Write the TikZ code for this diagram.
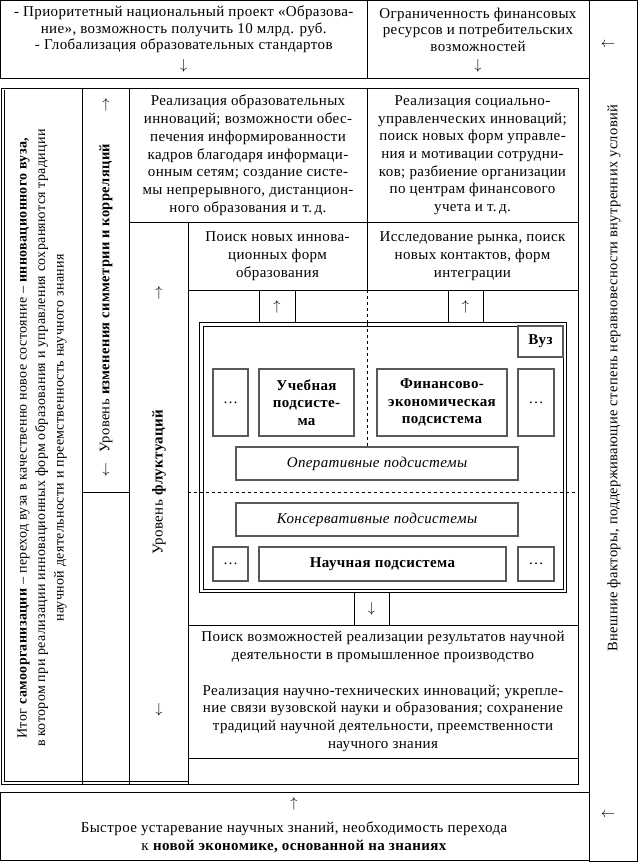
\documentclass[tikz,border=0pt]{standalone}
\usepackage{fontspec}
\setmainfont[LetterSpace=2.5]{Liberation Serif}
\newcommand\fsz{\fontsize{15}{17.7}\selectfont}
\newcommand\fsy{\fontsize{14.5}{17.7}\selectfont}
\newcommand\fsx{\fontsize{14}{18.5}\selectfont}
\newcommand\fst{\fontsize{15}{16.6}\selectfont}
\newcommand\arU{$\uparrow$}
\newcommand\arD{$\downarrow$}
\newcommand\arL{$\leftarrow$}
\begin{document}
\begin{tikzpicture}[x=1pt,y=-1pt,
  cell/.style={draw, line width=0.8pt, inner sep=0pt, outer sep=0pt, align=center, font=\fsz},
  sub/.style={draw=black!65, line width=1.2pt, inner sep=0pt, outer sep=0pt, align=center, font=\fsz},
  txt/.style={inner sep=0pt, outer sep=0pt, align=center, font=\fsz},
  rtxt/.style={txt, rotate=90},
  dashline/.style={dashed, line width=0.6pt, dash pattern=on 3pt off 3pt}]
\useasboundingbox (0,0) rectangle (642,862);
\fill[white] (0,0) rectangle (642,862);
% top boxes
\node[cell, minimum width=366.5, minimum height=77.5] (t1) at (183.75,39.25) {};
\node[txt, font=\fst] (t1txt) at (183.75,29.5) {- Приоритетный национальный проект «Образова-\\ние», возможность получить 10 млрд. руб.\\- Глобализация образовательных стандартов};
\node[txt] (t1ar) at (183.75,65.5) {\arD};
\node[cell, minimum width=222, minimum height=77.5] (t2) at (478,39.25) {};
\node[txt, font=\fst] (t2txt) at (478,29.5) {Ограниченность финансовых\\ресурсов и потребительских\\возможностей};
\node[txt] (t2ar) at (478,65.5) {\arD};
% right column
\node[cell, minimum width=48, minimum height=861] (rc) at (613,431) {};
\node[rtxt, font=\fsy] (rctxt) at (614,378) {Внешние факторы, поддерживающие степень неравновесности внутренних условий};
\node[txt] (rca1) at (608,45) {\arL};
\node[txt] (rca2) at (608,815) {\arL};
% bottom box
\node[cell, minimum width=588.5, minimum height=68] (bb) at (294.75,826) {};
\node[txt] (bbar) at (294,804) {\arU};
\node[txt] (bbtxt) at (294,837) {Быстрое устаревание научных знаний, необходимость перехода\\к \textbf{новой экономике, основанной на знаниях}};
% main frame
\draw[line width=1pt] (1.5,88.5) rectangle (578,784.5);
\draw[line width=0.6pt] (4.5,90) -- (4.5,781.5) -- (188,781.5);
\draw[line width=0.8pt] (82,88.5) -- (82,784.5);
\draw[line width=0.8pt] (129,88.5) -- (129,784.5);
\draw[line width=0.8pt] (82,492) -- (129,492);
\draw[line width=0.8pt] (188,222) -- (188,784.5);
% column 1
\node[rtxt, font=\fsx] (c1) at (42,438) {Итог \textbf{самоорганизации} – переход вуза в качественно новое состояние – \textbf{инновационного вуза,}\\в котором при реализации инновационных форм образования и управления сохраняются традиции\\научной деятельности и преемственность научного знания};
% column 2
\node[txt] (c2up) at (106,105) {\arU};
\node[txt] (c2dn) at (106,470) {\arD};
\node[rtxt, font=\fsy] (c2) at (106,298) {Уровень \textbf{изменения симметрии и корреляций}};
% column 3
\node[txt] (c3up) at (159,293) {\arU};
\node[rtxt] (c3) at (159,482) {Уровень \textbf{флуктуаций}};
\node[txt] (c3dn) at (159,710) {\arD};
% upper boxes
\node[cell, minimum width=238, minimum height=133.5] (ba) at (248,155.25) {Реализация образовательных\\инноваций; возможности обес-\\печения информированности\\кадров благодаря информаци-\\онным сетям; создание систе-\\мы непрерывного, дистанцион-\\ного образования и т.\,д.};
\node[cell, minimum width=211, minimum height=133.5] (bbx) at (472.5,155.25) {Реализация социально-\\управленческих инноваций;\\поиск новых форм управле-\\ния и мотивации сотрудни-\\ков; разбиение организации\\по центрам финансового\\учета и т.\,д.};
\node[cell, minimum width=179, minimum height=68] (bc) at (277.5,256) {Поиск новых иннова-\\ционных форм\\образования};
\node[cell, minimum width=211, minimum height=68] (bd) at (472.5,256) {Исследование рынка, поиск\\новых контактов, форм\\интеграции};
% region
\node[cell, minimum width=390, minimum height=335] (reg) at (383,457.5) {};
\node[cell, minimum width=36, minimum height=33] (u1) at (277,306.5) {\arU};
\node[cell, minimum width=35, minimum height=33] (u2) at (465.5,306.5) {\arU};
\draw[dashline] (367,290) -- (367,447);
\draw[dashline] (188,492) -- (578,492);
% Vuz box
\draw[line width=1.3pt, fill=white] (199.5,322.5) rectangle (566.5,592.5);
\draw[line width=0.6pt] (203,326) rectangle (563,589);
\draw[dashline] (367,322.5) -- (367,447);
\draw[dashline] (199.5,492) -- (566.5,492);
\node[sub, minimum width=45, minimum height=31, font=\fsz\bfseries] (vuz) at (540.5,341.5) {Вуз};
\node[sub, minimum width=35, minimum height=67] (d1) at (230.5,402.5) {…};
\node[sub, minimum width=95, minimum height=67, font=\fsz\bfseries] (uch) at (306.5,402.5) {Учебная\\подсисте-\\ма};
\node[sub, minimum width=130, minimum height=67, font=\fsz\bfseries] (fin) at (442,402.5) {Финансово-\\экономическая\\подсистема};
\node[sub, minimum width=36, minimum height=67] (d2) at (536,402.5) {…};
\node[sub, minimum width=282, minimum height=33, font=\fsz\itshape, fill=white] (oper) at (377,463.5) {Оперативные подсистемы};
\node[sub, minimum width=282, minimum height=33, font=\fsz\itshape] (kons) at (377,519.5) {Консервативные подсистемы};
\node[sub, minimum width=35, minimum height=34] (d3) at (230.5,564) {…};
\node[sub, minimum width=247, minimum height=34, font=\fsz\bfseries] (nauch) at (382.5,564) {Научная подсистема};
\node[sub, minimum width=36, minimum height=34] (d4) at (536,564) {…};
% down arrow and bottom boxes
\node[cell, minimum width=35, minimum height=32.5] (dn) at (371.5,608.75) {\arD};
\node[cell, minimum width=390, minimum height=133] (be) at (383,691.5) {Поиск возможностей реализации результатов научной\\деятельности в промышленное производство\\[17.7pt]Реализация научно-технических инноваций; укрепле-\\ние связи вузовской науки и образования; сохранение\\традиций научной деятельности, преемственности\\научного знания};
\node[cell, minimum width=390, minimum height=26.5] (strip) at (383,771.25) {};
\end{tikzpicture}
\end{document}
